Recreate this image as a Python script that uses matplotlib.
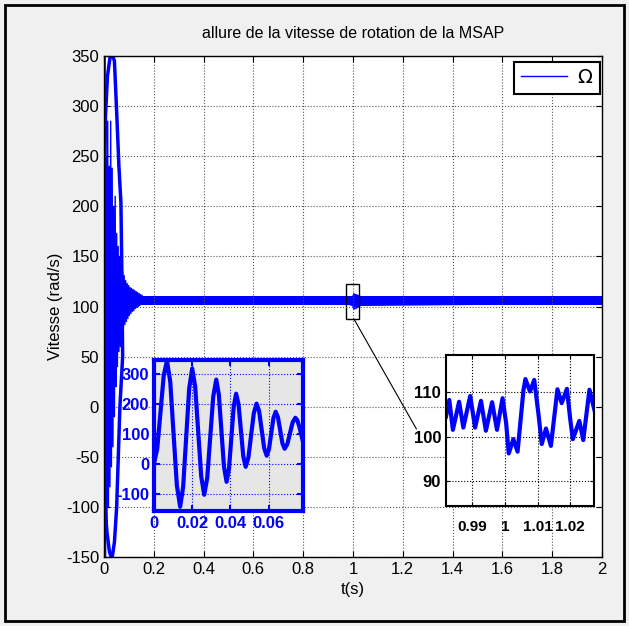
import matplotlib
matplotlib.use("Agg")
import matplotlib.pyplot as plt
from matplotlib.patches import Rectangle, ConnectionPatch

plt.rcParams['font.family'] = ['Liberation Sans', 'DejaVu Sans']
plt.rcParams['axes.unicode_minus'] = False

# --- data ---
# transient of the speed (thin line), alternating peaks/troughs
t_trans = [0.000, 0.003, 0.006, 0.009, 0.012, 0.015, 0.018, 0.021, 0.024, 0.027,
           0.030, 0.033, 0.036, 0.039, 0.042, 0.045, 0.048, 0.051, 0.054, 0.057,
           0.060, 0.063, 0.066, 0.069, 0.072, 0.075, 0.078, 0.081, 0.084, 0.087,
           0.090, 0.093, 0.096, 0.099, 0.102, 0.105, 0.108, 0.111, 0.114, 0.117,
           0.120, 0.123, 0.126, 0.129, 0.132, 0.135, 0.138, 0.141, 0.144, 0.147,
           0.150, 0.153]
w_trans = [0, 350, -150, 250, -130, 285, -100, 240, -80, 285,
           -60, 238, -40, 200, -10, 210, 20, 173, 40, 160,
           55, 150, 60, 140, 70, 135, 79, 131, 82, 126,
           85, 123, 88, 121, 91, 119, 93, 118, 95, 117,
           96, 116, 98, 115, 99, 114, 100, 113, 101, 112,
           102, 111]

# big first swing (thick loop near t=0)
t_loop = [0.004, 0.001, 0.001, 0.002, 0.006, 0.014, 0.024, 0.033, 0.042, 0.051,
          0.060, 0.068, 0.071, 0.075, 0.064, 0.051, 0.042, 0.032, 0.022, 0.012,
          0.004, 0.002]
w_loop = [-100, 0, 100, 200, 290, 330, 348, 352, 345, 294,
          240, 204, 150, 50, 0, -100, -135, -152, -145, -125,
          -100, -60]

# steady-state ripple band (envelope)
t_band = [0.15, 0.5, 0.98, 0.995, 1.0, 1.01, 1.03, 1.5, 2.0]
w_low = [102, 102, 102, 101, 97, 98, 101, 102, 102]
w_high = [111, 111, 111, 111, 114, 113, 111, 111, 111]

# zoom 1 : start-up
t_z1 = [0.0000, 0.0017, 0.0034, 0.0051, 0.0068, 0.00853, 0.01025, 0.01198, 0.0137,
        0.01528, 0.01685, 0.01843, 0.0200, 0.02158, 0.02315, 0.02473, 0.0263,
        0.02788, 0.02945, 0.03103, 0.0326, 0.03395, 0.0353, 0.03665, 0.0380,
        0.03925, 0.0405, 0.04175, 0.0430, 0.04425, 0.0455, 0.04675, 0.0480,
        0.04943, 0.05085, 0.05228, 0.0537, 0.05503, 0.05635, 0.05768, 0.0590,
        0.06018, 0.06135, 0.06253, 0.0637, 0.06488, 0.06605, 0.06723, 0.0684,
        0.0698, 0.0712, 0.0726, 0.0740, 0.0750, 0.0760, 0.0770, 0.0780]
w_z1 = [0, 50, 171, 293, 343, 272, 100, -72, -143,
        -76, 87, 250, 317, 256, 107, -42, -103,
        -47, 89, 224, 280, 230, 110, -10, -60,
        -17, 87, 190, 233, 198, 112, 25, -10,
        21, 95, 169, 200, 175, 114, 52, 27,
        48, 100, 152, 173, 155, 112, 68, 50,
        65, 102, 138, 153, 145, 125, 100, 73]

# zoom 2 : around the load step at t=1 s
t_z2 = [0.9820, 0.9830, 0.9841, 0.9860, 0.9873, 0.9894, 0.9909, 0.9927, 0.9942, 0.9961,
        0.9976, 0.9993, 1.0004, 1.0012, 1.0026, 1.0039, 1.0057, 1.0063, 1.0077, 1.0090,
        1.0103, 1.0113, 1.0126, 1.0141, 1.0161, 1.0174, 1.0190, 1.0200, 1.0208, 1.0228,
        1.0240, 1.0259, 1.0274]
w_z2 = [104.5, 108.2, 101.5, 107.8, 102.0, 109.1, 102.0, 108.0, 101.3, 107.7,
        101.5, 108.6, 103.0, 96.2, 99.4, 96.6, 110.4, 112.9, 110.1, 112.7,
        105.0, 98.3, 101.8, 97.9, 110.6, 107.5, 110.7, 104.0, 99.4, 103.5,
        99.2, 110.5, 106.0]

fig = plt.figure(figsize=(6.29, 6.26), dpi=100, facecolor='#f0f0f0')
fig.patches.append(Rectangle((5 / 629, 5 / 626), 619 / 629, 616 / 626, transform=fig.transFigure,
                             fill=False, edgecolor='black', lw=2))

ax = fig.add_axes([0.1653, 0.1102, 0.7917, 0.8003])
ax.plot(t_trans, w_trans, color='blue', lw=1, label='$\\Omega$')
ax.plot(t_loop, w_loop, color='blue', lw=2.5)
ax.fill_between(t_band, w_low, w_high, color='blue', lw=0)
ax.set_xlim(0, 2)
ax.set_ylim(-150, 350)
ax.set_xticks([0, 0.2, 0.4, 0.6, 0.8, 1, 1.2, 1.4, 1.6, 1.8, 2])
ax.set_xticklabels(['0', '0.2', '0.4', '0.6', '0.8', '1', '1.2', '1.4', '1.6', '1.8', '2'])
ax.set_yticks(range(-150, 351, 50))
ax.tick_params(direction='in', top=True, right=True, length=4, labelsize=12)
ax.grid(True, ls=':', color='#555555', lw=0.8)
ax.set_title('allure de la vitesse de rotation de la MSAP', fontsize=11.5, pad=13)
ax.set_xlabel('t(s)', fontsize=12)
ax.set_ylabel('Vitesse (rad/s)', fontsize=12, labelpad=2)
for s in ax.spines.values():
    s.set_linewidth(1)
leg = ax.legend(loc='upper right', bbox_to_anchor=(0.996, 0.988), borderaxespad=0,
                fancybox=False, edgecolor='black', framealpha=1,
                prop={'family': 'Liberation Serif', 'size': 14}, handlelength=2.4,
                handletextpad=0.5, borderpad=0.35)
leg.get_frame().set_linewidth(1.5)

# zoom box around t = 1 s
x0, x1 = t_z2[0] - 0.01, t_z2[-1] - 0.004
box = Rectangle((x0, 87.5), x1 - x0, 35, fill=False, edgecolor='black', lw=1)
ax.add_patch(box)

# inset 1
ax1 = fig.add_axes([0.2448, 0.1837, 0.2369, 0.2412], facecolor='#e6e6e6')
ax1.plot(t_z1, w_z1, color='blue', lw=3)
ax1.set_xlim(0, 0.078)
ax1.set_ylim(-157, 345)
ax1.set_xticks([0, 0.02, 0.04, 0.06])
ax1.set_xticklabels(['0', '0.02', '0.04', '0.06'])
ax1.set_yticks([-100, 0, 100, 200, 300])
ax1.tick_params(direction='in', top=True, right=True, colors='blue', labelsize=12, length=4, width=1.5)
for lab in ax1.get_xticklabels() + ax1.get_yticklabels():
    lab.set_fontweight('bold')
ax1.grid(True, ls=':', color='blue', lw=0.8)
for s in ax1.spines.values():
    s.set_color('blue')
    s.set_linewidth(3)

# inset 2
ax2 = fig.add_axes([0.7091, 0.1917, 0.2353, 0.2412], facecolor='white')
ax2.plot(t_z2, w_z2, color='blue', lw=3)
ax2.set_xlim(0.982, 1.0273)
ax2.set_ylim(84.4, 118.3)
ax2.set_xticks([0.99, 1, 1.01, 1.02])
ax2.set_xticklabels(['0.99', '1', '1.01', '1.02'])
ax2.set_yticks([90, 100, 110])
ax2.tick_params(direction='in', top=True, right=True, labelsize=12, length=3)
ax2.tick_params(axis='x', labelsize=11, pad=10)
for lab in ax2.get_xticklabels() + ax2.get_yticklabels():
    lab.set_fontweight('bold')
ax2.grid(True, ls=':', color='black', lw=0.8)
for s in ax2.spines.values():
    s.set_linewidth(1.5)

con = ConnectionPatch(xyA=(t_z2[0] + 0.022, 87.5), coordsA=ax.transData,
                      xyB=(-0.2, 0.51), coordsB=ax2.transAxes, color='black', lw=0.8)
fig.add_artist(con)

fig.savefig('out.png', dpi=100, facecolor=fig.get_facecolor())
